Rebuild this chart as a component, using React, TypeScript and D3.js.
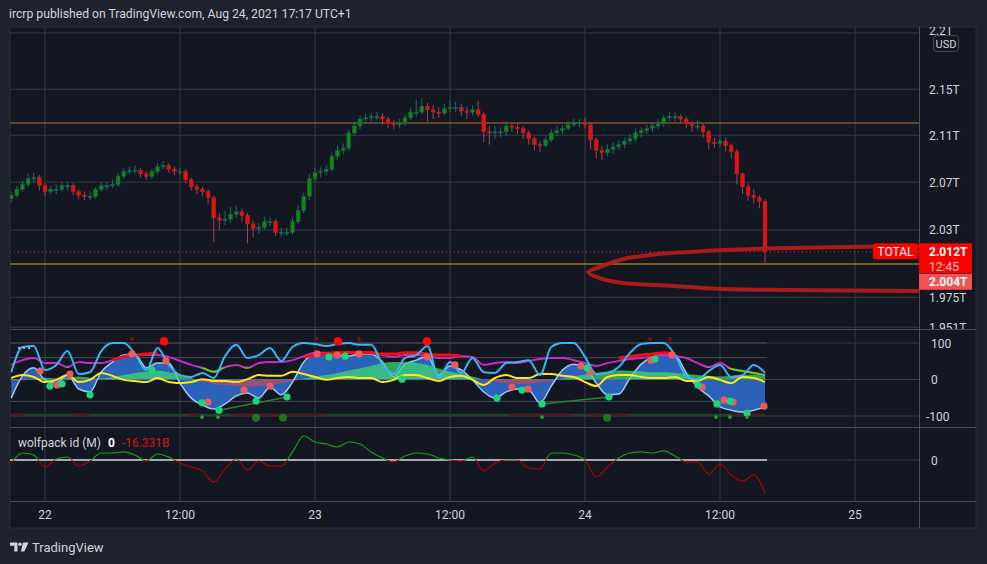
import * as d3 from 'd3'

const W = 987
const H = 564
const FONT = 'Roboto, "DejaVu Sans", sans-serif'

// 30 minute bars, first one opens 21 Aug 2021 21:00 UTC
const barStart = Date.UTC(2021, 7, 21, 21)
const firstOpen = 2.056
const closes = [
  2.059, 2.064, 2.068, 2.073, 2.074, 2.067, 2.062, 2.064, 2.064, 2.067,
  2.067, 2.062, 2.059, 2.058, 2.058, 2.064, 2.067, 2.067, 2.068, 2.075,
  2.079, 2.08, 2.08, 2.077, 2.075, 2.079, 2.083, 2.084, 2.081, 2.079,
  2.079, 2.072, 2.066, 2.064, 2.062, 2.057, 2.04, 2.038, 2.039, 2.043,
  2.045, 2.042, 2.035, 2.031, 2.032, 2.037, 2.037, 2.028, 2.028, 2.028,
  2.037, 2.046, 2.058, 2.073, 2.078, 2.079, 2.081, 2.092, 2.097, 2.099,
  2.112, 2.118, 2.124, 2.125, 2.126, 2.126, 2.124, 2.12, 2.119, 2.121,
  2.125, 2.13, 2.13, 2.135, 2.132, 2.13, 2.129, 2.133, 2.134, 2.134,
  2.131, 2.13, 2.132, 2.128, 2.113, 2.112, 2.113, 2.113, 2.118, 2.117,
  2.116, 2.112, 2.107, 2.102, 2.101, 2.106, 2.112, 2.114, 2.116, 2.119,
  2.121, 2.121, 2.119, 2.106, 2.097, 2.095, 2.098, 2.1, 2.102, 2.105,
  2.107, 2.112, 2.114, 2.116, 2.118, 2.12, 2.125, 2.126, 2.126, 2.124,
  2.12, 2.118, 2.118, 2.113, 2.104, 2.103, 2.105, 2.101, 2.096, 2.077,
  2.066, 2.059, 2.057, 2.054, 2.012,
]
const highs = [
  2.062, 2.067, 2.071, 2.077, 2.078, 2.076, 2.069, 2.067, 2.068, 2.07,
  2.07, 2.069, 2.064, 2.062, 2.062, 2.066, 2.07, 2.07, 2.072, 2.078,
  2.082, 2.083, 2.084, 2.082, 2.079, 2.081, 2.086, 2.088, 2.086, 2.083,
  2.082, 2.081, 2.074, 2.068, 2.066, 2.064, 2.059, 2.044, 2.046, 2.049,
  2.05, 2.048, 2.044, 2.038, 2.036, 2.041, 2.04, 2.039, 2.032, 2.032,
  2.041, 2.05, 2.061, 2.077, 2.082, 2.083, 2.085, 2.095, 2.101, 2.103,
  2.115, 2.122, 2.127, 2.129, 2.129, 2.13, 2.129, 2.126, 2.123, 2.124,
  2.128, 2.134, 2.141, 2.142, 2.138, 2.136, 2.134, 2.137, 2.14, 2.139,
  2.137, 2.135, 2.136, 2.14, 2.13, 2.118, 2.118, 2.117, 2.122, 2.121,
  2.12, 2.118, 2.114, 2.109, 2.105, 2.109, 2.115, 2.118, 2.119, 2.122,
  2.124, 2.124, 2.125, 2.121, 2.108, 2.101, 2.102, 2.104, 2.106, 2.108,
  2.111, 2.116, 2.117, 2.119, 2.121, 2.124, 2.128, 2.13, 2.13, 2.128,
  2.126, 2.122, 2.123, 2.12, 2.115, 2.108, 2.11, 2.108, 2.103, 2.098,
  2.078, 2.069, 2.064, 2.059, 2.056,
]
const lows = [
  2.053, 2.057, 2.062, 2.066, 2.07, 2.063, 2.058, 2.06, 2.06, 2.062,
  2.063, 2.059, 2.056, 2.055, 2.055, 2.056, 2.062, 2.064, 2.065, 2.066,
  2.073, 2.077, 2.077, 2.074, 2.072, 2.073, 2.077, 2.081, 2.078, 2.076,
  2.076, 2.069, 2.063, 2.06, 2.058, 2.052, 2.02, 2.03, 2.034, 2.036,
  2.04, 2.037, 2.019, 2.024, 2.027, 2.03, 2.033, 2.025, 2.024, 2.025,
  2.026, 2.035, 2.044, 2.055, 2.07, 2.074, 2.076, 2.079, 2.089, 2.094,
  2.097, 2.109, 2.115, 2.121, 2.122, 2.123, 2.119, 2.116, 2.115, 2.116,
  2.118, 2.123, 2.126, 2.128, 2.122, 2.124, 2.125, 2.127, 2.13, 2.13,
  2.127, 2.124, 2.127, 2.125, 2.104, 2.102, 2.107, 2.108, 2.11, 2.113,
  2.111, 2.107, 2.102, 2.097, 2.096, 2.099, 2.104, 2.109, 2.111, 2.114,
  2.117, 2.117, 2.116, 2.098, 2.09, 2.089, 2.092, 2.094, 2.097, 2.099,
  2.102, 2.104, 2.108, 2.111, 2.113, 2.115, 2.117, 2.122, 2.122, 2.12,
  2.116, 2.113, 2.114, 2.108, 2.098, 2.099, 2.1, 2.096, 2.09, 2.068,
  2.06, 2.054, 2.052, 2.048, 2.001,
]

const priceTicks = [2.2, 2.15, 2.11, 2.07, 2.03, 1.975, 1.951]
const resistanceLevel = 2.1206
const supportLevel = 2.002
const otherQuote = 2.004
const countdown = '12:45'

// hand drawn marker: [hours after barStart, price]
const markerPath: [number, number][] = [
  [80.7, 2.0168], [69.2, 2.0151], [63.3, 2.0134], [60.3, 2.0118], [57.4, 2.0101],
  [54.4, 2.0061], [52.3, 1.9995], [51.3, 1.9954], [52.3, 1.9905], [54.4, 1.9865],
  [57.4, 1.9849], [60.3, 1.9833], [63.3, 1.9817], [69.2, 1.9809], [80.7, 1.9801],
]

// hourly oscillator samples (same start as bars)
const stochK = [
  20, 89, 92, 26, 40, 78, 15, 20, 78, 100, 100, 70, 26, 86, 40, 12, 7, 18, 4, 64,
  95, 59, 67, 86, 51, 89, 100, 97, 92, 97, 100, 95, 95, 42, 15, 59, 67, 92, 4, 48,
  18, 59, 20, 18, 45, 48, 53, 12, 89, 100, 100, 62, 15, 18, 34, 73, 97, 100, 100, 67,
  10, 0, 23, 40, 7, 12, 40, 18,
]
const waveTrend = [
  -51, 10, 32, -1, -10, 12, -26, -34, 21, 48, 67, 70, 32, 45, 45, -10, -51, -70, -81, -67,
  -45, -37, -51, -21, -42, -7, 48, 70, 73, 67, 64, 70, 70, 48, 7, 42, 53, 64, 12, 37,
  26, -1, -34, -51, -34, -26, -29, -64, -18, 26, 42, 34, -10, -42, -40, 4, 42, 62, 70, 67,
  18, -21, -45, -75, -84, -89, -84, -75,
]
const moneyFlow = [
  -3, -3, 2, 5, 3, 5, 8, 5, 3, 6, 12, 18, 22, 24, 20, 12, 4, -5, -12, -15,
  -18, -20, -18, -15, -10, -5, 2, 8, 12, 18, 25, 30, 38, 45, 48, 48, 45, 40, 30, 22,
  15, 8, 0, -6, -10, -12, -12, -8, -4, 2, 8, 14, 18, 22, 25, 24, 22, 20, 20, 18,
  15, 12, 10, 8, 10, 12, 14, 10,
]
const rsiLine = [
  40, 53, 59, 45, 45, 34, 48, 45, 45, 53, 64, 67, 67, 67, 62, 51, 40, 32, 21, 34,
  40, 32, 45, 48, 48, 53, 64, 73, 73, 73, 73, 75, 75, 67, 62, 67, 67, 64, 59, 59,
  64, 62, 40, 45, 48, 45, 51, 56, 59, 59, 53, 45, 37, 45, 51, 56, 59, 62, 67, 64,
  59, 45, 34, 45, 29, 23, 18, 12,
]
const signalLine = [
  4, 12, 7, -7, -1, 12, -7, -1, 18, 10, -1, -4, -7, 4, -7, -10, -7, 1, -4, -4,
  -7, 1, 12, 10, 10, 21, 15, 7, -1, 4, 7, 4, 4, -7, -1, 12, 12, 4, -4, 7,
  10, -1, -15, 4, 12, 4, 4, 15, 15, 10, 7, -7, -18, 7, 12, 12, 7, 4, 4, 7,
  -4, -4, 7, -1, -10, 7, 4, -7,
]
const n = null
const trendLine: (number | null)[] = [
  n, n, n, n, n, n, n, n, n, 53, 62, 67, 70, 73, n, n, n, n, n, n,
  n, n, n, n, n, n, 62, 67, 70, 73, 75, 73, 73, 70, 70, 73, 73, 70, 67, 67,
  64, n, n, n, n, n, n, n, n, n, n, n, n, n, 59, 64, 67, 70, 73, 70,
  n, n, n, n, n, n, n, n,
]
const wolfpack = [
  -1.5, 3.5, 2.5, -3.5, 0.5, 1.5, -3, -0.5, 3.5, 3.5, 4, 2.5, -0.5, 3, 1.5, -1.5, -3.5, -5.4, -10.9, -4.5,
  0.5, -5, -0.5, -3, -3, 4, 11.9, 8.9, 7.9, 6.4, 8.9, 7.9, 4, 1, -1, 2, 3.5, 3, 1, 0,
  -0.5, 1.5, -5.4, -1.5, 0, 0, -4, -4.5, 3.5, 3.5, 2.5, 0, -8.4, -3.5, 1, 3.5, 4, 3.5, 4.5, 2,
  -1, -1, -6.9, -2, -7.4, -10.4, -7.4, -16.331,
]

// signal dots: [hours after barStart, value]
const sellDots: [number, number][] = [
  [2.56, 23], [4.07, -15], [5.22, 15], [10.73, 70], [13.76, 51], [17.49, -62], [20.69, -29],
  [23, -18], [27.18, 70], [28.96, 67], [30.91, 70], [36.96, 62], [39.44, 40], [44.51, -21],
  [45.93, -26], [50.64, 37], [51.44, 21], [56.87, 53], [58.73, 67], [61.4, -21], [63.36, -56],
  [64.16, -62], [66.91, -73],
]
const buyDots: [number, number][] = [
  [3.44, -18], [4.51, -12], [7, -42], [12.51, 26], [16.96, -64], [18.47, -84], [21.76, -59],
  [24.51, -48], [28.24, 62], [29.67, 64], [34.73, 1], [43.18, -51], [45.4, -29], [47.18, -67],
  [51.18, 32], [53.13, -48], [57.22, 56], [61.04, -15], [62.73, -67], [63.89, -59], [65.4, -92],
]
const bigSellHours = [13.58, 29.04, 36.96]
const smallSellHours = [10.73, 27.18, 30.91, 56.78, 58.56]
const smallBuyHours = [16.96, 18.38, 47.18, 62.64, 63.89, 65.4]
const bigBuyHours = [21.76, 24.16, 52.96]
const divergences: [number, number, number, number][] = [
  [18.47, -84, 24.51, -48],
  [47.18, -67, 53.13, -48],
]
const bandRed: [number, number][] = [[0, 1.2], [5.5, 7], [15.6, 16.8], [19.5, 28], [44.3, 50], [51.2, 55], [64, 66.8]]

const L = 10
const R = 919
const AX = 976
const mainTop = 27
const mainBot = 329
const oscTop = 330
const oscBot = 427
const wolfTop = 428
const wolfBot = 501
const frameBot = 528

const barTime = (i: number) => new Date(barStart + i * 30 * 60000)
const hourTime = (h: number) => new Date(barStart + h * 3600000)

const x = d3.scaleUtc().domain([new Date(Date.UTC(2021, 7, 22)), new Date(Date.UTC(2021, 7, 25))]).range([45, 855])
const yP = d3.scaleLog().domain([1.9496, 2.2053]).range([mainBot, mainTop])
const yO = d3.scaleLinear().domain([-100, 100]).range([416, 343])
const yW = d3.scaleLinear().domain([-16.331, 0]).range([493, 460])

const timeTicks = d3.utcHour.every(12)!.range(new Date(Date.UTC(2021, 7, 22)), new Date(Date.UTC(2021, 7, 25, 1)))
const fmtTick = (d: Date) => (d.getUTCHours() === 0 ? d3.utcFormat('%-d')(d) : d3.utcFormat('%H:%M')(d))

const oscLine = (vals: (number | null)[]) =>
  d3
    .line<number | null>()
    .defined((v) => v != null)
    .x((_, i) => x(hourTime(i)))
    .y((v) => yO(v as number))
    .curve(d3.curveMonotoneX)(vals) ?? ''

const oscArea = (vals: number[]) =>
  d3
    .area<number>()
    .x((_, i) => x(hourTime(i)))
    .y0(yO(0))
    .y1((v) => yO(v))
    .curve(d3.curveMonotoneX)(vals) ?? ''

const wolfPath =
  d3
    .line<number>()
    .x((_, i) => x(hourTime(i)))
    .y((v) => yW(v))
    .curve(d3.curveMonotoneX)(wolfpack) ?? ''

const markerD =
  d3
    .line<[number, number]>()
    .x((d) => x(hourTime(d[0])))
    .y((d) => yP(d[1]))
    .curve(d3.curveCatmullRom)(markerPath) ?? ''

const GRID = '#363a45'
const SEP = '#4a4e59'
const TXT = '#d1d4dc'

export default function App() {
  const lastX = x(barTime(closes.length - 1))
  const lastClose = closes[closes.length - 1]
  const yLast = yP(lastClose)
  const zeroO = yO(0)
  const zeroW = yW(0)

  return (
    <div style={{ position: 'absolute', left: 0, top: 0, width: W, height: H, background: '#1e222d' }}>
      <svg width={W} height={H} style={{ display: 'block', fontFamily: FONT }}>
        <defs>
          <clipPath id="cMain"><rect x={L} y={mainTop} width={R - L} height={mainBot - mainTop} /></clipPath>
          <clipPath id="cAxis"><rect x={R} y={mainTop} width={AX - R} height={mainBot - mainTop} /></clipPath>
          <clipPath id="cOsc"><rect x={L} y={oscTop} width={R - L} height={oscBot - oscTop} /></clipPath>
          <clipPath id="cOscPos"><rect x={L} y={oscTop} width={R - L} height={zeroO - oscTop} /></clipPath>
          <clipPath id="cOscNeg"><rect x={L} y={zeroO} width={R - L} height={oscBot - zeroO} /></clipPath>
          <clipPath id="cRsiLow"><rect x={L} y={yO(33)} width={R - L} height={oscBot - yO(33)} /></clipPath>
          <clipPath id="cWolfPos"><rect x={L} y={wolfTop} width={R - L} height={zeroW - wolfTop} /></clipPath>
          <clipPath id="cWolfNeg"><rect x={L} y={zeroW} width={R - L} height={wolfBot - zeroW} /></clipPath>
        </defs>

        <text x={9} y={17.5} fill={TXT} fontSize={12.2}>
          ircrp published on TradingView.com, Aug 24, 2021 17:17 UTC+1
        </text>

        <rect x={L} y={mainTop} width={AX - L} height={frameBot - mainTop} fill="#131722" stroke="#2a2e39" />

        {/* vertical grid */}
        {timeTicks.map((t) => (
          <line key={+t} x1={x(t)} x2={x(t)} y1={mainTop} y2={wolfBot} stroke={GRID} />
        ))}

        {/* main pane */}
        {priceTicks.map((p) => (
          <line key={p} x1={L} x2={R} y1={yP(p)} y2={yP(p)} stroke={GRID} clipPath="url(#cMain)" />
        ))}
        <g clipPath="url(#cMain)">
          <line x1={L} x2={R} y1={yP(resistanceLevel)} y2={yP(resistanceLevel)} stroke="#b0703a" strokeWidth={1.1} />
          <line x1={L} x2={R} y1={yP(supportLevel)} y2={yP(supportLevel)} stroke="#d9a520" strokeWidth={1.2} />
          {closes.map((c, i) => {
            const o = i === 0 ? firstOpen : closes[i - 1]
            const up = c >= o
            const cx = x(barTime(i))
            const top = yP(Math.max(o, c))
            const bh = Math.max(1.2, Math.abs(yP(o) - yP(c)))
            return (
              <g key={i}>
                <line x1={cx} x2={cx} y1={yP(highs[i])} y2={yP(lows[i])} stroke={up ? '#1d6c72' : '#a8424f'} />
                <rect x={cx - 1.9} y={top} width={3.8} height={bh} fill={up ? '#0c8c0c' : '#f20d0d'} stroke={up ? '#1d5f5f' : '#9c2a35'} strokeWidth={0.5} />
              </g>
            )
          })}
          <line x1={L} x2={R} y1={yLast} y2={yLast} stroke="#ff1a1a" strokeDasharray="1 3" />
          <path d={markerD} fill="none" stroke="#b71c1c" strokeWidth={4} strokeLinecap="round" opacity={0.92} />
        </g>

        {/* oscillator pane */}
        {[100, 0, -100].map((v) => (
          <line key={v} x1={L} x2={R} y1={yO(v)} y2={yO(v)} stroke={GRID} />
        ))}
        {[100, 60, 0, -60].map((v) => (
          <line key={v} x1={L} x2={lastX + 2} y1={yO(v)} y2={yO(v)} stroke={v === 0 ? '#5d606b' : '#464a55'} />
        ))}
        <g clipPath="url(#cOsc)">
          <line x1={L} x2={lastX} y1={yO(-97)} y2={yO(-97)} stroke="#24412d" strokeWidth={2.5} />
          {bandRed.map(([a, b], i) => (
            <line key={i} x1={x(hourTime(a))} x2={x(hourTime(b))} y1={yO(-97)} y2={yO(-97)} stroke="#4f1d24" strokeWidth={2.5} />
          ))}
          <path d={oscArea(waveTrend)} fill="#2d65c3" opacity={0.95} />
          <path d={oscLine(waveTrend)} fill="none" stroke="#9ecbf5" strokeWidth={1.5} />
          <path d={oscArea(moneyFlow)} fill="#3ddc72" opacity={0.72} clipPath="url(#cOscPos)" />
          <path d={oscArea(moneyFlow)} fill="#ff3b3b" opacity={0.5} clipPath="url(#cOscNeg)" />
          <path d={oscLine(rsiLine)} fill="none" stroke="#c42cc4" strokeWidth={2} />
          <path d={oscLine(rsiLine)} fill="none" stroke="#5fd11f" strokeWidth={2} clipPath="url(#cRsiLow)" />
          <path d={oscLine(signalLine)} fill="none" stroke="#ffe81a" strokeWidth={2} />
          <path d={oscLine(trendLine)} fill="none" stroke="#ef1010" strokeWidth={3} />
          <path d={oscLine(stochK)} fill="none" stroke="#3bb4f2" strokeWidth={2} />
          {divergences.map(([h1, v1, h2, v2], i) => (
            <line key={i} x1={x(hourTime(h1))} y1={yO(v1)} x2={x(hourTime(h2))} y2={yO(v2)} stroke="#2f7d32" strokeWidth={1.5} />
          ))}
          {sellDots.map(([h, v], i) => (
            <circle key={'s' + i} cx={x(hourTime(h))} cy={yO(v)} r={3.6} fill="#f0585e" />
          ))}
          {buyDots.map(([h, v], i) => (
            <circle key={'b' + i} cx={x(hourTime(h))} cy={yO(v)} r={3.6} fill="#1ed67a" />
          ))}
          {bigSellHours.map((h) => (
            <circle key={h} cx={x(hourTime(h))} cy={yO(105)} r={4.3} fill="#ff0a0a" />
          ))}
          {smallSellHours.map((h) => (
            <circle key={h} cx={x(hourTime(h))} cy={yO(111)} r={1.9} fill="#8a0d0d" />
          ))}
          {smallBuyHours.map((h) => (
            <circle key={h} cx={x(hourTime(h))} cy={yO(-103)} r={1.9} fill="#2f9e2f" />
          ))}
          {bigBuyHours.map((h) => (
            <circle key={h} cx={x(hourTime(h))} cy={yO(-105)} r={4} fill="#237a23" opacity={0.9} />
          ))}
          {[19, 24, 29].map((cx) => (
            <circle key={cx} cx={cx} cy={348} r={1.2} fill="#b2b5be" />
          ))}
        </g>

        {/* wolfpack pane */}
        <line x1={L} x2={R} y1={zeroW} y2={zeroW} stroke={GRID} />
        <line x1={L} x2={lastX + 2} y1={zeroW} y2={zeroW} stroke="#d1d4dc" strokeWidth={1.4} />
        <path d={wolfPath} fill="none" stroke="#17a317" strokeWidth={1.1} clipPath="url(#cWolfPos)" />
        <path d={wolfPath} fill="none" stroke="#b30000" strokeWidth={1.1} clipPath="url(#cWolfNeg)" />
        <text x={18} y={447} fontSize={12} fill={TXT}>
          wolfpack id (M)
          <tspan dx={7} fill="#ffffff" fontWeight={700}>0</tspan>
          <tspan dx={7} fill="#d41515">{wolfpack[wolfpack.length - 1].toFixed(3)}B</tspan>
        </text>

        {/* separators */}
        {[mainBot + 0.5, oscBot + 0.5, wolfBot + 0.5].map((y) => (
          <line key={y} x1={L} x2={AX} y1={y} y2={y} stroke={SEP} />
        ))}
        <line x1={R + 0.5} x2={R + 0.5} y1={mainTop} y2={frameBot} stroke={SEP} />

        {/* price axis */}
        <g clipPath="url(#cAxis)">
          {priceTicks.map((p) => (
            <text key={p} x={929} y={yP(p) + (p === 2.2 ? 2 : 4.5)} fontSize={12} fill={TXT}>
              {p}T
            </text>
          ))}
        </g>
        <rect x={933.5} y={35.5} width={25} height={16} rx={3} fill="#131722" stroke="#434651" />
        <text x={946} y={47.5} fontSize={11} fill={TXT} textAnchor="middle">USD</text>

        <rect x={873} y={yLast - 8.5} width={45} height={16} rx={2} fill="#ff0000" />
        <text x={895.5} y={yLast + 4} fontSize={12} fill="#ffffff" textAnchor="middle">TOTAL</text>
        <rect x={919} y={yLast - 8.5} width={53} height={30} fill="#ff0000" />
        <text x={929} y={yLast + 4.5} fontSize={12} fill="#ffffff" fontWeight={700}>{lastClose.toFixed(3)}T</text>
        <text x={929} y={yLast + 19} fontSize={12} fill="#ffd0d0">{countdown}</text>
        <rect x={919} y={yLast + 22} width={53} height={16} fill="#f05252" />
        <text x={929} y={yLast + 34.5} fontSize={12} fill="#ffffff" fontWeight={700}>{otherQuote.toFixed(3)}T</text>

        {/* oscillator axes */}
        {[100, 0, -100].map((v) => (
          <text key={v} x={v < 0 ? 926 : 931} y={yO(v) + 4.5} fontSize={12} fill={TXT}>{v}</text>
        ))}
        <text x={931} y={zeroW + 4.5} fontSize={12} fill={TXT}>0</text>

        {/* time axis */}
        {timeTicks.map((t) => (
          <text key={+t} x={x(t)} y={519} fontSize={12} fill={TXT} textAnchor="middle">
            {fmtTick(t)}
          </text>
        ))}

        {/* footer logo */}
        <g fill="#d1d4dc">
          <path d="M10 542.5h7.5v9h-3.2v-5.8h-4.3z" />
          <circle cx={20} cy={544.2} r={1.7} />
          <path d="M23 542.5h5.5l-4.2 9h-3.4z" />
        </g>
        <text x={32} y={551.5} fontSize={13} fill={TXT}>TradingView</text>
      </svg>
    </div>
  )
}
